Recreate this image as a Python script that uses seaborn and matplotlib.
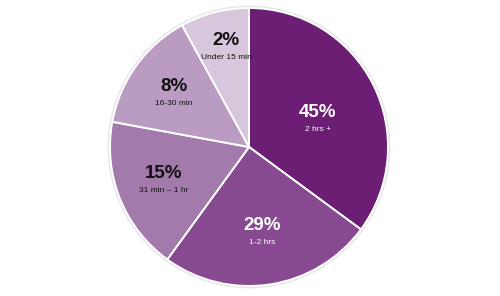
import matplotlib
matplotlib.use("Agg")
import matplotlib.pyplot as plt
import seaborn as sns
import numpy as np

# Data (slice sizes as drawn in the reference, labels as printed)
categories = ["2 hrs +", "1-2 hrs", "31 min \u2013 1 hr", "16-30 min", "Under 15 min"]
slice_sizes = [35.1, 24.9, 17.9, 14.1, 8.0]
pct_labels = ["45%", "29%", "15%", "8%", "2%"]

# Styling
colors = sns.color_palette(["#6B1E73", "#874990", "#A27AAB", "#BA9CC3", "#D7C7DC"])
text_colors = ["white", "white", "#111111", "#111111", "#111111"]
label_radius = [0.53, 0.633, 0.662, 0.657, 0.724]
label_angle_shift = [-6.2, -0.5, 0.3, 0.9, -1.3]

sns.set_theme(style="white")
plt.rcParams["font.family"] = ["Liberation Sans", "DejaVu Sans"]

fig = plt.figure(figsize=(5.0, 2.96), dpi=100)
ax = fig.add_axes([0, 0, 1, 1])

# outer faint ring
ring = plt.Circle((0, 0), 1.012, color="#e6e6e6", zorder=0)
ax.add_patch(ring)

wedges, _ = ax.pie(slice_sizes, colors=colors, startangle=90, counterclock=False,
                   radius=1.0,
                   wedgeprops=dict(edgecolor="white", linewidth=1.4))

for w, pct, cat, tc, r, da in zip(wedges, pct_labels, categories, text_colors,
                                  label_radius, label_angle_shift):
    mid = np.deg2rad((w.theta1 + w.theta2) / 2.0 + da)
    x, y = r * np.cos(mid), r * np.sin(mid)
    ax.text(x, y + 0.06, pct, ha="center", va="center", fontsize=13.5,
            fontweight="bold", color=tc)
    ax.text(x, y - 0.063, cat, ha="center", va="center", fontsize=6, color=tc)

ax.set_xlim(-249 / 139, (500 - 249) / 139)
ax.set_ylim(-149 / 139, 147 / 139)
ax.set_aspect("auto")
ax.axis("off")

fig.savefig("out.png", dpi=100, facecolor="white")
